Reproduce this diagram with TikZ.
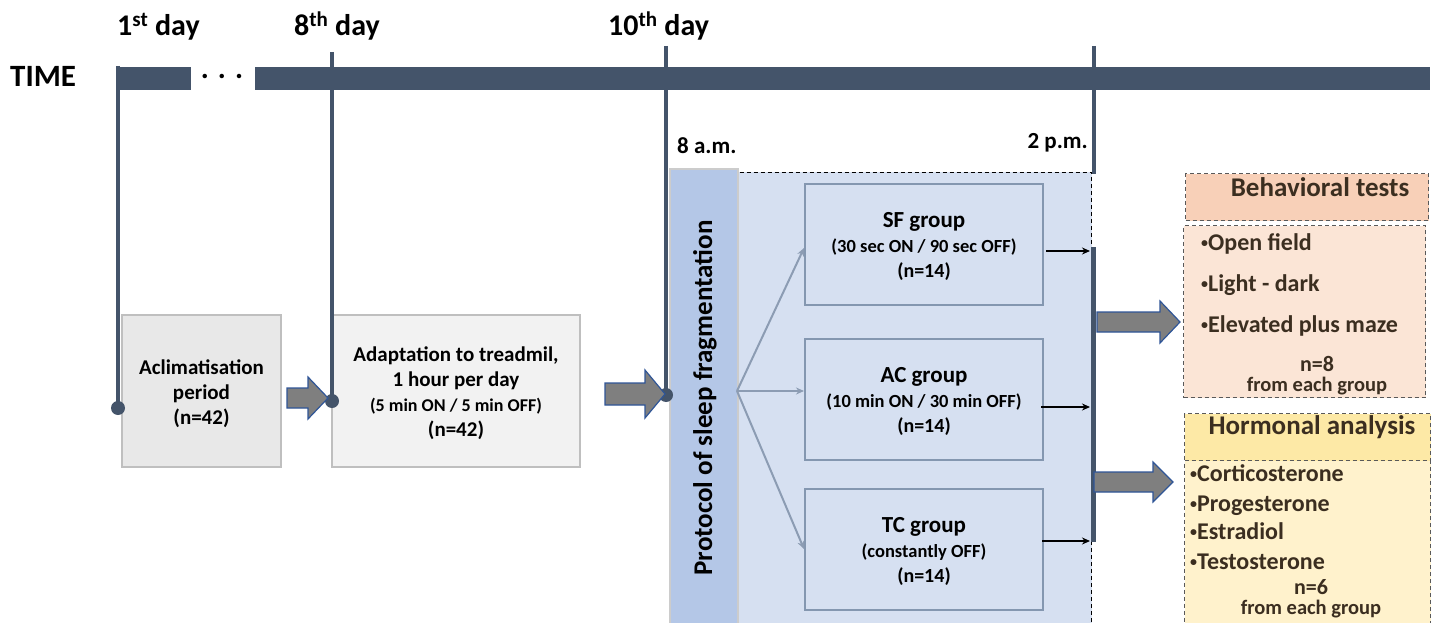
\documentclass[tikz,border=0pt]{standalone}
\usepackage{fontspec}
\setmainfont{Carlito}
\usetikzlibrary{arrows.meta,calc}
\definecolor{tl}{HTML}{44546A}
\definecolor{lb}{HTML}{D6E0F1}
\definecolor{pbar}{HTML}{B4C7E7}
\definecolor{gbord}{HTML}{8497B0}
\definecolor{garr}{HTML}{8C9CB3}
\definecolor{aclf}{HTML}{E8E8E8}
\definecolor{adaf}{HTML}{F2F2F2}
\definecolor{boxb}{HTML}{BFBFBF}
\definecolor{bhead}{HTML}{F8D0B8}
\definecolor{bbody}{HTML}{FBE5D6}
\definecolor{hhead}{HTML}{FDE9A6}
\definecolor{hbody}{HTML}{FFF2CC}
\definecolor{ptxt}{HTML}{3B2E20}
\definecolor{barrowfill}{HTML}{7F7F7F}
\definecolor{barrowline}{HTML}{2F5597}
\newcommand\fsz[2]{\fontsize{#1}{#2}\selectfont}
\newcommand\bul{\raisebox{2.5pt}{\fsz{14}{14}•}}
\newcommand\blockarr[6]{%
  \draw[bigarrow] (#1,{#3-#4}) -- ({#2-#6},{#3-#4}) -- ({#2-#6},{#3-#5}) -- (#2,#3)
    -- ({#2-#6},{#3+#5}) -- ({#2-#6},{#3+#4}) -- (#1,{#3+#4}) -- cycle;}
\tikzset{
  dotnode/.style={circle,fill=tl,inner sep=0pt,minimum size=14pt},
  vline/.style={tl,line width=4pt},
  stagebox/.style={draw=boxb,line width=2pt,inner sep=0pt},
  stagetext/.style={align=center,inner sep=0pt,font=\bfseries\fsz{21}{25}},
  grp/.style={draw=gbord,line width=2pt,fill=lb,minimum width=238pt,minimum height=121pt,inner sep=0pt},
  grptext/.style={align=center,inner sep=0pt,font=\bfseries\fsz{23}{25}},
  garrow/.style={garr,line width=2pt,-{Stealth[length=8pt,width=7pt]}},
  sarrow/.style={black,line width=1.8pt,-{Stealth[length=8pt,width=7pt]}},
  bigarrow/.style={fill=barrowfill,draw=barrowline,line width=1.2pt},
  panel/.style={dashed,dash pattern=on 4pt off 3pt,draw=black!65,line width=1.3pt,anchor=north west,inner sep=0pt},
  item/.style={anchor=base west,text=ptxt,font=\bfseries\fsz{24}{26},inner sep=0pt},
}
\begin{document}
\begin{tikzpicture}[x=1pt,y=-1pt,font=\bfseries]
\useasboundingbox (0,0) rectangle (1434,623);
% timeline bar
\fill[tl] (116,67) rectangle (191,90);
\fill[tl] (255,67) rectangle (1430,90);
\node (dots) at (222,76) {\fsz{30}{30}. . .};
\node[anchor=west,inner sep=0pt] (time) at (10,76) {\fsz{31}{34}TIME};
\node[anchor=base west,inner sep=0pt] (d1) at (117,36) {\fsz{30}{34}1\textsuperscript{st} day};
\node[anchor=base west,inner sep=0pt] (d8) at (294,36) {\fsz{30}{34}8\textsuperscript{th} day};
\node[anchor=base west,inner sep=0pt] (d10) at (608,36) {\fsz{30}{34}10\textsuperscript{th} day};
% stage boxes
\node[stagebox,fill=aclf,minimum width=159pt,minimum height=152pt] (acl) at (201.5,391) {};
\node[stagetext] (acltext) at ($(acl.center)+(0,3)$) {Aclimatisation\\period\\(n=42)};
\node[stagebox,fill=adaf,minimum width=248pt,minimum height=152pt] (ada) at (456,391) {};
\node[stagetext] (adatext) at ($(ada.center)+(0,2)$)
  {Adaptation to treadmil,\\1 hour per day\\{\fsz{18}{25}(5 min ON / 5 min OFF)}\\(n=42)};
% protocol area
\node[draw=lb,fill=lb,anchor=north west,minimum width=354pt,minimum height=480pt,inner sep=0pt] (dbox) at (737,172) {};
\draw[black,line width=0.9pt,dash pattern=on 4pt off 3pt] (dbox.south west) -- (dbox.north west) -- (dbox.north east) -- (dbox.south east);
\node[draw=boxb!80,line width=1.5pt,fill=pbar,anchor=north west,minimum width=68pt,minimum height=480pt,inner sep=0pt] (pbarnode) at (669,168) {};
\node[rotate=90] (prot) at (705,398) {\fsz{27}{30}Protocol of sleep fragmentation};
\node[anchor=west,inner sep=0pt] (am) at (677,146) {\fsz{23}{26}8 a.m.};
\node[anchor=east,inner sep=0pt] (pm) at (1088,143) {\fsz{23}{26}2 p.m.};
% groups
\node[grp] (sf) at (924,244) {};
\node[grptext] (sftext) at ($(sf.center)+(0,2)$) {SF group\\{\fsz{18.5}{25}(30 sec ON / 90 sec OFF)}\\{\fsz{20}{25}(n=14)}};
\node[grp] (ac) at (924,399.5) {};
\node[grptext] (actext) at ($(ac.center)+(0,2)$) {AC group\\{\fsz{18.5}{25}(10 min ON / 30 min OFF)}\\{\fsz{20}{25}(n=14)}};
\node[grp] (tc) at (924,549) {};
\node[grptext] (tctext) at ($(tc.center)+(0,2)$) {TC group\\{\fsz{18.5}{25}(constantly OFF)}\\{\fsz{20}{25}(n=14)}};
\coordinate (split) at (737,391);
\draw[garrow] (split) -- ($(sf.west)+(0,4)$);
\draw[garrow] (split) -- (ac.west |- split);
\draw[garrow] (split) -- (tc.west);
% right collector bar
\coordinate (rbtop) at (1093,247);
\coordinate (rbbot) at (1093,542);
\draw[tl,line width=5pt] (rbtop) -- (rbbot);
\draw[sarrow] ($(sf.east)+(2,7)$) -- ($(sf.east -| rbtop)+(-3,7)$);
\draw[sarrow] ($(ac.east)+(-3,7.5)$) -- ($(ac.east -| rbtop)+(-3,7.5)$);
\draw[sarrow] ($(tc.east)+(-2,-8)$) -- ($(tc.east -| rbtop)+(-3,-8)$);
% vertical time lines
\node[dotnode] (dot1) at (118,408) {};
\node[dotnode] (dot2) at (332,401) {};
\node[dotnode] (dot3) at (666,395) {};
\draw[vline] (118,66) -- (dot1.center);
\draw[vline] (332,52) -- (dot2.center);
\draw[vline] (666,46) -- (dot3.center);
\coordinate (pmtop) at (1094,46);
\coordinate (pmbot) at (1094,174);
\draw[vline] (pmtop) -- (pmbot);
% block arrows
\blockarr{287}{328}{398}{10}{21}{20}
\blockarr{605}{665}{394}{11}{24}{20}
\blockarr{1097}{1180}{322}{10}{21}{20}
\blockarr{1094}{1173}{482}{10}{20}{20}
% behavioral panel
\node[panel,fill=bhead,minimum width=243pt,minimum height=47pt] (bh) at (1185,173) {};
\node[text=ptxt] (bht) at (1320,187) {\fsz{27}{30}Behavioral tests};
\node[panel,fill=bbody,minimum width=242pt,minimum height=172pt] (bb) at (1183,225) {};
\node[item] (b1) at (1201,250) {\bul Open field};
\node[item] (b2) at (1201,291) {\bul Light - dark};
\node[item] (b3) at (1201,332) {\bul Elevated plus maze};
\node[text=ptxt,inner sep=0pt] (bn) at (1317,364) {\fsz{22}{24}n=8};
\node[text=ptxt,inner sep=0pt] (bf) at (1317,386) {\fsz{20.5}{22}from each group};
% hormonal panel
\node[panel,fill=hhead,minimum width=246pt,minimum height=47pt] (hh) at (1184,413) {};
\node[text=ptxt] (hht) at (1312,427) {\fsz{27}{30}Hormonal analysis};
\node[panel,fill=hbody,minimum width=246pt,minimum height=170pt] (hb) at (1184,460) {};
\node[item] (h1) at (1190,481) {\bul Corticosterone};
\node[item] (h2) at (1190,511) {\bul Progesterone};
\node[item] (h3) at (1190,539) {\bul Estradiol};
\node[item] (h4) at (1190,569) {\bul Testosterone};
\node[text=ptxt,inner sep=0pt] (hn) at (1311,587) {\fsz{22}{24}n=6};
\node[text=ptxt,inner sep=0pt] (hf) at (1311,609) {\fsz{20.5}{22}from each group};
\end{tikzpicture}
\end{document}
